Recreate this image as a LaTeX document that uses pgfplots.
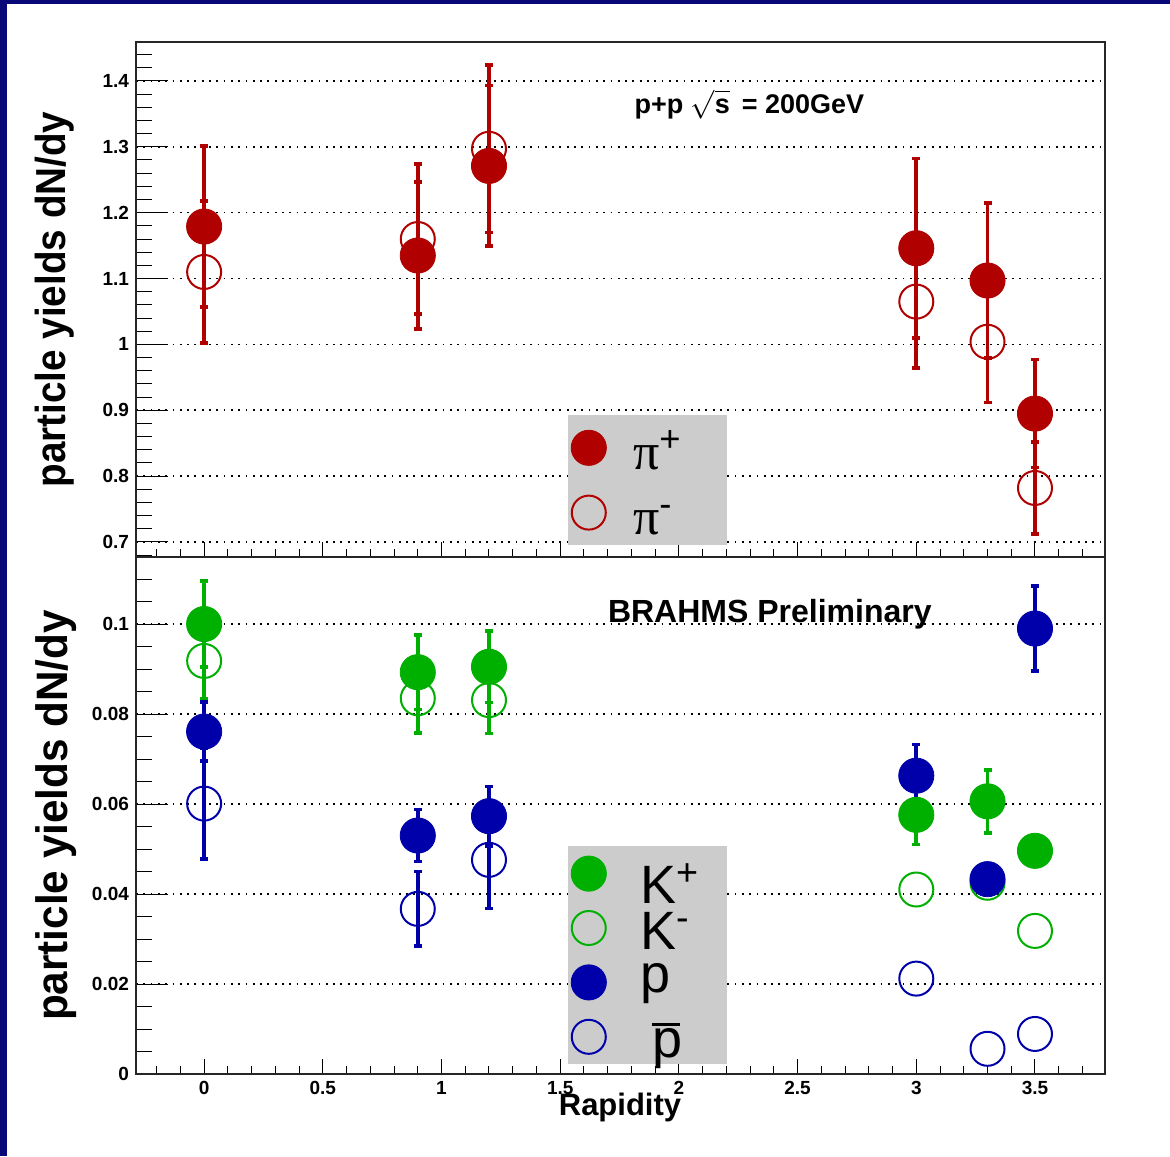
\documentclass[border=0pt]{standalone}
\usepackage{pgfplots}
\pgfplotsset{compat=1.18}
\usepackage{fontspec}
\setmainfont{Liberation Sans}
\newfontfamily\serifgreek{Liberation Serif}
\definecolor{rootred}{RGB}{176,0,0}
\definecolor{rootgreen}{RGB}{0,176,0}
\definecolor{rootblue}{RGB}{0,0,170}
\definecolor{navyb}{RGB}{8,8,120}
\definecolor{leggray}{RGB}{204,204,204}

\tikzset{
  fmark/.style={mark=*, mark size=8.8pt, color=#1, mark options={fill=#1, draw=#1, line width=0.4pt}},
  omark/.style={mark=o, mark size=8.5pt, color=#1, mark options={fill=white, draw=#1, line width=1pt}},
}
\pgfplotsset{
  brahms/.style={
    scale only axis, width=484.5pt,
    xmin=-0.287, xmax=3.795,
    clip=false,
    axis line style={line width=1pt, black!85},
    xtick={-0.5,0,...,4}, minor x tick num=4,
    tick align=inside, xtick pos=bottom, ytick pos=left,
    xtick style={/pgfplots/major tick length=7.5pt, /pgfplots/minor tick length=4pt, line width=0.5pt, black},
    ytick style={/pgfplots/major tick length=16pt, /pgfplots/minor tick length=8pt, line width=0.5pt, black},
    ymajorgrids, major grid style={black, line width=0.8pt, dash pattern=on 0.9pt off 2.75pt},
    tick label style={font=\bfseries\fontsize{9.5}{11}\selectfont},
    /pgf/number format/assume math mode=true,
    /pgf/number format/fixed,
    /pgf/number format/precision=2,
    scaled y ticks=false, scaled x ticks=false,
    legend cell align=left,
    error bars/error bar style={line width=1.8pt},
    error bars/error mark options={rotate=90, mark size=2pt, line width=1.8pt},
  },
  eb/.style={error bars/y dir=both, error bars/y explicit},
  barsonly/.style={mark=none, draw=none, color=#1, forget plot, eb,
    error bars/error bar style={draw=#1, line width=1.8pt},
    error bars/error mark options={rotate=90, mark size=2pt, line width=1.8pt, draw=#1}},
}

\begin{document}
\begin{tikzpicture}
\fill[white] (0,0) rectangle (585pt,578pt);
\fill[navyb] (0,576pt) rectangle (585pt,578pt);
\fill[navyb] (0,0) rectangle (3.5pt,578pt);

% ---------------- top panel: pions ----------------
\begin{axis}[brahms, at={(68pt,299.5pt)}, anchor=south west, height=257.5pt,
  ymin=0.6772, ymax=1.4592, ytick={0.6,0.7,...,1.5}, minor y tick num=4,
  xticklabels={},
  ylabel={\scalebox{0.92}[1]{particle yields dN/dy}},
  ylabel style={font=\bfseries\fontsize{21}{24}\selectfont, at={(axis description cs:-0.063,0.5)}, anchor=south, inner sep=0pt},
  legend style={at={(0.4458,0.2757)}, anchor=north west, fill=leggray, draw=none,
    inner xsep=0pt, inner ysep=0pt, font=\fontsize{26}{28}\selectfont,
    nodes={inner sep=0pt, text height=22pt, text depth=0pt, text width=47pt, align=left}},
  legend image code/.code={\draw[#1] plot coordinates {(0pt,0pt)}; \path (-10pt,-16pt) (22pt,16pt);},
]
% pi- : error bars, then open markers
\addplot[barsonly=rootred] table[x=x, y=y, y error=e] {
x y e
0 1.110 0.108
0.9 1.160 0.114
1.2 1.297 0.127
3.0 1.065 0.101
3.3 1.004 0.092
3.5 0.782 0.070
};
\addplot[only marks, omark=rootred, forget plot] table[x=x, y=y] {
x y
0 1.110
0.9 1.160
1.2 1.297
3.0 1.065
3.3 1.004
3.5 0.782
};
% pi+
\addplot[only marks, fmark=rootred, eb, forget plot] table[x=x, y=y, y error=e] {
x y e
0 1.179 0.122
0.9 1.135 0.112
1.2 1.271 0.122
3.0 1.146 0.136
3.3 1.097 0.118
3.5 0.895 0.082
};
\addlegendimage{only marks, fmark=rootred}
\addlegendentry{{\serifgreek π}\textsuperscript{+}}
\addlegendimage{only marks, omark=rootred}
\addlegendentry{{\serifgreek π}\textsuperscript{-}}
\node[anchor=base, font=\bfseries\fontsize{13.5}{15}\selectfont] at (axis cs:2.297,1.351) {p+p $\sqrt{\hbox{s}}$\, = 200GeV};
\end{axis}

% ---------------- bottom panel: kaons and protons ----------------
\begin{axis}[brahms, at={(68pt,41pt)}, anchor=south west, height=258.5pt,
  ymin=0, ymax=0.1149, ytick={0,0.02,...,0.12}, minor y tick num=3,
  ylabel={\scalebox{0.96}[1]{particle yields dN/dy}},
  ylabel style={font=\bfseries\fontsize{22}{25}\selectfont, at={(axis description cs:-0.061,0.5)}, anchor=south, inner sep=0pt},
  xlabel={Rapidity},
  xlabel style={font=\bfseries\fontsize{15.5}{18}\selectfont, at={(axis description cs:0.4995,-0.0793)}, anchor=base, inner sep=0pt},
  legend style={at={(0.4458,0.441)}, anchor=north west, fill=leggray, draw=none,
    inner xsep=0pt, inner ysep=0pt, font=\fontsize{27}{29}\selectfont,
    nodes={inner sep=0pt, text height=21pt, text depth=0pt, text width=43.5pt, align=left}},
  legend image code/.code={\draw[#1] plot coordinates {(0pt,0pt)}; \path (-10pt,-13.4pt) (25.5pt,13.4pt);},
]
% K- : error bars, then open markers
\addplot[barsonly=rootgreen] table[x=x, y=y, y error=e] {
x y e
0 0.0918 0.0085
0.9 0.0835 0.0077
1.2 0.0831 0.0074
};
\addplot[only marks, omark=rootgreen, forget plot] table[x=x, y=y] {
x y
0 0.0918
0.9 0.0835
1.2 0.0831
3.0 0.0410
3.3 0.0425
3.5 0.0318
};
% pbar : error bars, then open markers
\addplot[barsonly=rootblue] table[x=x, y=y, y error=e] {
x y e
0 0.0601 0.0123
0.9 0.0367 0.0083
1.2 0.0476 0.0108
};
\addplot[only marks, omark=rootblue, forget plot] table[x=x, y=y] {
x y
0 0.0601
0.9 0.0367
1.2 0.0476
3.0 0.0212
3.3 0.0056
3.5 0.0089
};
% K+
\addplot[only marks, fmark=rootgreen, eb, forget plot] table[x=x, y=y, y error=e] {
x y e
0 0.1000 0.0095
0.9 0.0893 0.0083
1.2 0.0905 0.0079
3.0 0.0576 0.0066
3.3 0.0606 0.0070
3.5 0.0496 0
};
% p
\addplot[only marks, fmark=rootblue, eb, forget plot] table[x=x, y=y, y error=e] {
x y e
0 0.0761 0.0066
0.9 0.0530 0.0058
1.2 0.0573 0.0066
3.0 0.0663 0.0069
3.3 0.0433 0
3.5 0.0990 0.0095
};
\addlegendimage{only marks, fmark=rootgreen}
\addlegendentry{\raisebox{-4.5pt}{K\textsuperscript{+}}}
\addlegendimage{only marks, omark=rootgreen}
\addlegendentry{K\textsuperscript{-}}
\addlegendimage{only marks, fmark=rootblue}
\addlegendentry{\raisebox{5.5pt}{p}}
\addlegendimage{only marks, omark=rootblue}
\addlegendentry{\hspace{6pt}\makebox[0pt][l]{\raisebox{16pt}{\rule{14pt}{1.5pt}}}p}
\node[anchor=base, font=\bfseries\fontsize{16}{18}\selectfont] at (axis cs:2.383,0.1004) {BRAHMS Preliminary};
\end{axis}
\end{tikzpicture}
\end{document}
